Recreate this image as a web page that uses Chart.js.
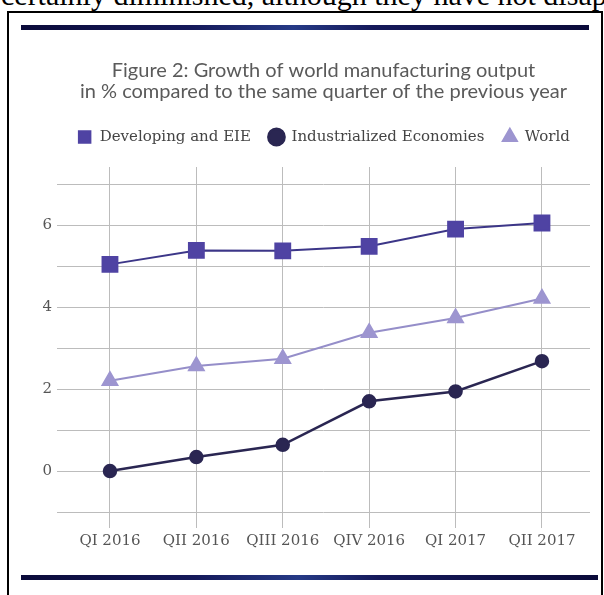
<!DOCTYPE html>
<html>
<head>
<meta charset="utf-8">
<script src="https://cdn.jsdelivr.net/npm/chart.js@4.4.0/dist/chart.umd.min.js"></script>
<style>
  html, body { margin: 0; padding: 0; background: #fff; width: 604px; height: 595px; overflow: hidden; }
  body { position: relative; }
  #lead { position: absolute; left: 1px; top: -20px; font: 30px "Liberation Serif", serif; line-height: 1; color: #000; white-space: nowrap; }
  #frame { position: absolute; left: 7px; top: 11px; width: 592px; height: 600px; border: 2px solid #000; }
  .rule { position: absolute; height: 5px;
          background: linear-gradient(90deg, #0b0b3a 0%, #15195a 30%, #263a86 48%, #15195a 62%, #0b0b3a 100%); }
  #ruleTop { left: 21px; top: 25px; width: 568px; }
  #ruleBottom { left: 21px; top: 575px; width: 577px; }
  #chart { position: absolute; left: 0; top: 0; }
</style>
</head>
<body>
<div id="lead">certainly diminished, although they have not disappeared</div>
<div id="frame"></div>
<div class="rule" id="ruleTop"></div>
<div class="rule" id="ruleBottom"></div>
<canvas id="chart" width="604" height="595"></canvas>
<script>
// Quarterly growth of manufacturing output, % change year on year
const quarters = ['QI 2016', 'QII 2016', 'QIII 2016', 'QIV 2016', 'QI 2017', 'QII 2017'];
const developingEIE = [5.04, 5.38, 5.37, 5.48, 5.90, 6.05];
const industrialized = [0.00, 0.34, 0.64, 1.70, 1.94, 2.68];
const world = [2.20, 2.56, 2.74, 3.37, 3.73, 4.21];

// value axis: a grid line at every unit, labels on the even ones
const yGridValues = [-1, 0, 1, 2, 3, 4, 5, 6, 7];
const yLabelValues = [0, 2, 4, 6];

const titleLines = [
  'Figure 2: Growth of world manufacturing output',
  'in % compared to the same quarter of the previous year'
];

const toPoints = values => values.map((v, i) => ({ x: i, y: v }));

const serif = '"DejaVu Serif", serif';

new Chart(document.getElementById('chart'), {
  type: 'line',
  data: {
    datasets: [
      {
        label: 'Developing and EIE',
        data: toPoints(developingEIE),
        borderColor: '#3c3688',
        backgroundColor: '#4f43a3',
        pointBackgroundColor: '#4f43a3',
        pointBorderColor: '#4f43a3',
        pointStyle: 'rect',
        pointRadius: 10.5,
        borderWidth: 2
      },
      {
        label: 'Industrialized Economies',
        data: toPoints(industrialized),
        borderColor: '#2a2652',
        backgroundColor: '#2a2652',
        pointBackgroundColor: '#2a2652',
        pointBorderColor: '#2a2652',
        pointStyle: 'circle',
        pointRadius: 6,
        borderWidth: 2.5
      },
      {
        label: 'World',
        data: toPoints(world),
        borderColor: '#958ec9',
        backgroundColor: '#9d95d0',
        pointBackgroundColor: '#9d95d0',
        pointBorderColor: '#9d95d0',
        pointStyle: 'triangle',
        pointRadius: 8.5,
        borderWidth: 2
      }
    ]
  },
  options: {
    responsive: false,
    animation: false,
    events: [],
    layout: { padding: { top: 60.5, left: 0, right: 14, bottom: 37 } },
    plugins: {
      tooltip: { enabled: false },
      title: {
        display: true,
        fullSize: false,
        text: titleLines,
        color: '#5a5a5a',
        font: { family: 'Lato, sans-serif', size: 20, weight: 'normal', lineHeight: '21px' },
        padding: { top: 0, bottom: 9 }
      },
      subtitle: {
        display: true,
        fullSize: false,
        text: '',
        weight: 500,
        font: { size: 1, lineHeight: 1 },
        padding: { top: 11.5, bottom: 0 }
      },
      legend: {
        display: true,
        fullSize: false,
        position: 'top',
        labels: {
          usePointStyle: true,
          boxWidth: 15,
          boxHeight: 11.5,
          padding: 18,
          color: '#444',
          font: { family: serif, size: 15 }
        }
      }
    },
    scales: {
      x: {
        type: 'linear',
        min: -0.613,
        max: 5.556,
        afterBuildTicks: scale => { scale.ticks = quarters.map((_, i) => ({ value: i })); },
        afterFit: scale => { scale.height = 30; },
        grid: { color: '#bcbcbc', lineWidth: 1, drawTicks: false },
        border: { display: false },
        ticks: {
          autoSkip: false,
          maxRotation: 0,
          padding: 4,
          color: '#555',
          font: { family: serif, size: 15 },
          callback: value => quarters[value]
        }
      },
      y: {
        min: -1.39,
        max: 7.415,
        afterBuildTicks: scale => { scale.ticks = yGridValues.map(v => ({ value: v })); },
        afterFit: scale => { scale.width = 57; },
        grid: { color: '#bcbcbc', lineWidth: 1, drawTicks: false },
        border: { display: false },
        ticks: {
          padding: 5,
          color: '#555',
          font: { family: serif, size: 15 },
          callback: value => (yLabelValues.includes(value) ? String(value) : '')
        }
      }
    }
  }
});
</script>
</body>
</html>
